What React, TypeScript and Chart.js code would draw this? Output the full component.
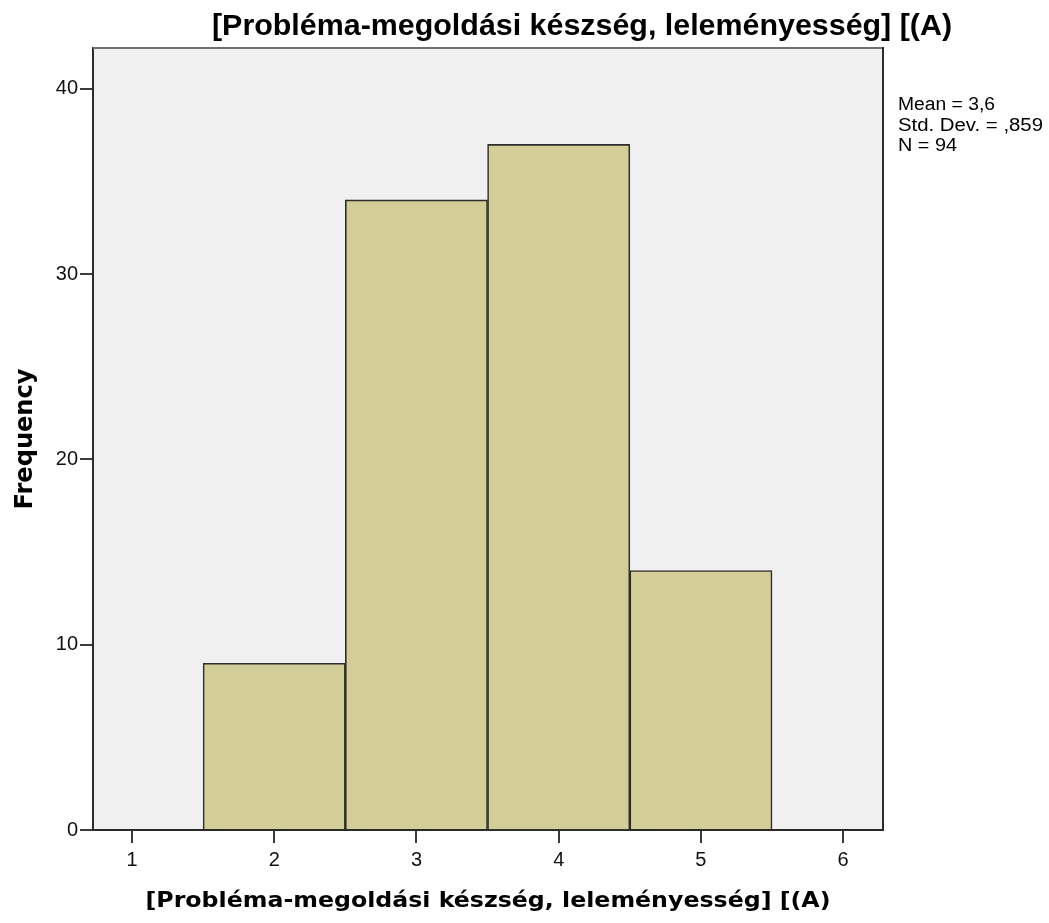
import React, { useEffect, useRef } from "react";
import { Chart, registerables } from "chart.js";

Chart.register(...registerables);

// ---- data ----
const binCenters = [2, 3, 4, 5];
const frequencies = [9, 34, 37, 14];
const xTickValues = [1, 2, 3, 4, 5, 6];
const yTickValues = [0, 10, 20, 30, 40];
const chartTitle = "[Probléma-megoldási készség, leleményesség] [(A)";
const xAxisTitle = "[Probléma-megoldási készség, leleményesség] [(A)";
const yAxisTitle = "Frequency";
const statsLines = ["Mean = 3,6", "Std. Dev. = ,859", "N = 94"];

// axis ranges
const xMin = 0.726;
const xMax = 6.28;
const yMin = 0;
const yMax = 42.2;

// ---- styles ----
const W = 1049;
const H = 923;
const plotBg = "#F0F0F0";
const barFill = "#D3CE97";
const barEdge = "#2e2e2e";
const axisColor = "#2a2a2a";
const sansFamily = "'Liberation Sans', Arial, sans-serif";
const boldFamily = "'DejaVu Sans', Verdana, sans-serif";

type FitOpts = {
  family: string;
  weight: string;
  size: number;
  width?: number;
  align: CanvasTextAlign;
  rotate?: number;
  sy?: number;
};

function drawFitted(ctx: CanvasRenderingContext2D, text: string, x: number, y: number, o: FitOpts) {
  ctx.save();
  ctx.font = `${o.weight} ${o.size}px ${o.family}`;
  const w = ctx.measureText(text).width;
  const sx = o.width ? o.width / w : 1;
  ctx.translate(x, y);
  if (o.rotate) ctx.rotate(o.rotate);
  ctx.scale(sx, o.sy || 1);
  ctx.textAlign = o.align;
  ctx.textBaseline = "alphabetic";
  ctx.fillStyle = "#000";
  ctx.fillText(text, 0, 0);
  ctx.restore();
}

const decorPlugin = {
  id: "decor",
  beforeDraw(chart: any) {
    const { ctx, chartArea: a } = chart;
    ctx.save();
    ctx.fillStyle = plotBg;
    ctx.fillRect(a.left, a.top, a.right - a.left, a.bottom - a.top);
    ctx.restore();
  },
  afterDraw(chart: any) {
    const { ctx, chartArea: a } = chart;
    ctx.save();
    // top frame line (gray)
    ctx.strokeStyle = "#6f6f6f";
    ctx.lineWidth = 2;
    ctx.beginPath();
    ctx.moveTo(a.left, a.top);
    ctx.lineTo(a.right, a.top);
    ctx.stroke();
    // right frame line
    ctx.strokeStyle = axisColor;
    ctx.beginPath();
    ctx.moveTo(a.right, a.top - 1);
    ctx.lineTo(a.right, a.bottom);
    ctx.stroke();
    ctx.restore();

    const cx = (a.left + a.right) / 2;
    const cy = (a.top + a.bottom) / 2;

    // chart title
    drawFitted(ctx, chartTitle, 582, 35, {
      family: sansFamily,
      weight: "bold",
      size: 30,
      width: 740,
      align: "center",
    });
    // x axis title
    drawFitted(ctx, xAxisTitle, cx, 907, {
      family: boldFamily,
      weight: "bold",
      size: 21,
      width: 685,
      align: "center",
    });
    // y axis title
    drawFitted(ctx, yAxisTitle, 32, cy, {
      family: boldFamily,
      weight: "bold",
      size: 24,
      width: 141,
      align: "center",
      rotate: -Math.PI / 2,
    });
    // stats
    const statWidths = [97, 145, 59];
    const statBase = [110, 130.5, 151];
    statsLines.forEach((t, i) => {
      drawFitted(ctx, t, 898, statBase[i], {
        family: sansFamily,
        weight: "normal",
        size: 18,
        width: statWidths[i],
        align: "left",
      });
    });
  },
};

export default function App() {
  const ref = useRef<HTMLCanvasElement | null>(null);

  useEffect(() => {
    if (!ref.current) return;
    const chart = new Chart(ref.current, {
      type: "bar",
      data: {
        datasets: [
          {
            data: binCenters.map((c, i) => ({ x: c, y: frequencies[i] })),
            backgroundColor: barFill,
            borderColor: barEdge,
            borderWidth: 1.6,
            barPercentage: 1,
            categoryPercentage: 1,
          },
        ],
      },
      options: {
        animation: false,
        responsive: false,
        devicePixelRatio: 1,
        layout: { padding: { top: 48, right: W - 883, bottom: 0, left: 0 } },
        plugins: {
          legend: { display: false },
          tooltip: { enabled: false },
          title: { display: false },
        },
        scales: {
          x: {
            type: "linear",
            min: xMin,
            max: xMax,
            offset: false,
            afterBuildTicks: (scale: any) => {
              scale.ticks = xTickValues.map((v) => ({ value: v }));
            },
            afterFit: (scale: any) => {
              scale.height = 93;
            },
            grid: {
              offset: false,
              drawOnChartArea: false,
              drawTicks: true,
              tickLength: 13,
              tickColor: "#3a3a3a",
              tickWidth: 2,
              color: "#3a3a3a",
              lineWidth: 2,
            },
            border: { display: true, color: axisColor, width: 2 },
            ticks: {
              color: "#111",
              padding: 5,
              maxRotation: 0,
              font: { family: sansFamily, size: 20 },
              callback: (v: any) => String(v),
            },
          },
          y: {
            type: "linear",
            min: yMin,
            max: yMax,
            afterBuildTicks: (scale: any) => {
              scale.ticks = yTickValues.map((v) => ({ value: v }));
            },
            afterFit: (scale: any) => {
              scale.width = 93;
            },
            grid: {
              drawOnChartArea: false,
              drawTicks: true,
              tickLength: 13,
              tickColor: "#3a3a3a",
              tickWidth: 2,
              color: "#3a3a3a",
              lineWidth: 2,
            },
            border: { display: true, color: axisColor, width: 2 },
            ticks: {
              color: "#111",
              padding: 2,
              font: { family: sansFamily, size: 20 },
              callback: (v: any) => String(v),
            },
          },
        },
      },
      plugins: [decorPlugin],
    } as any);
    return () => chart.destroy();
  }, []);

  return (
    <div style={{ position: "absolute", left: 0, top: 0, width: W, height: H, background: "#fff" }}>
      <canvas ref={ref} width={W} height={H} style={{ display: "block", width: W, height: H }} />
    </div>
  );
}
